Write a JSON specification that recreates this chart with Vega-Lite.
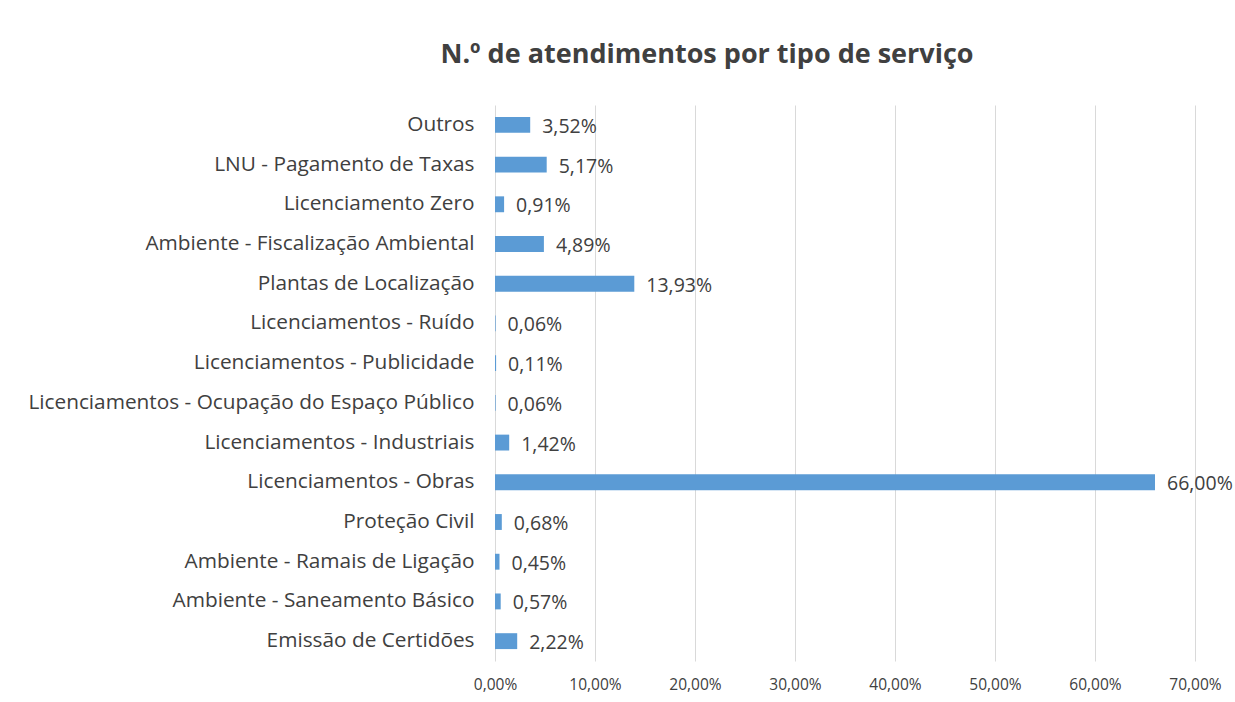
{
  "$schema": "https://vega.github.io/schema/vega-lite/v6.json",
  "autosize": {"type": "none"},
  "width": 700,
  "height": 556,
  "padding": {"left": 495, "top": 105, "right": 40, "bottom": 41},
  "background": "white",
  "title": {
    "text": "N.º de atendimentos por tipo de serviço",
    "font": "Open Sans",
    "fontSize": 27,
    "fontWeight": "bold",
    "color": "#404040",
    "anchor": "middle",
    "dx": -138,
    "offset": 36
  },
  "data": {
    "values": [
      {"servico": "Outros", "valor": 0.0352},
      {"servico": "LNU - Pagamento de Taxas", "valor": 0.0517},
      {"servico": "Licenciamento Zero", "valor": 0.0091},
      {"servico": "Ambiente - Fiscalização Ambiental", "valor": 0.0489},
      {"servico": "Plantas de Localização", "valor": 0.1393},
      {"servico": "Licenciamentos - Ruído", "valor": 0.0006},
      {"servico": "Licenciamentos - Publicidade", "valor": 0.0011},
      {"servico": "Licenciamentos - Ocupação do Espaço Público", "valor": 0.0006},
      {"servico": "Licenciamentos - Industriais", "valor": 0.0142},
      {"servico": "Licenciamentos - Obras", "valor": 0.66},
      {"servico": "Proteção Civil", "valor": 0.0068},
      {"servico": "Ambiente - Ramais de Ligação", "valor": 0.0045},
      {"servico": "Ambiente - Saneamento Básico", "valor": 0.0057},
      {"servico": "Emissão de Certidões", "valor": 0.0222}
    ]
  },
  "encoding": {
    "y": {
      "field": "servico",
      "type": "nominal",
      "sort": null,
      "scale": {"paddingInner": 0.6, "paddingOuter": 0.3},
      "axis": {
        "title": null,
        "ticks": false,
        "domain": false,
        "labelFont": "Open Sans",
        "labelFontSize": 20.8,
        "labelColor": "#404040",
        "labelPadding": 21,
        "labelLimit": 0
      }
    },
    "x": {
      "field": "valor",
      "type": "quantitative",
      "scale": {"domain": [0, 0.7], "nice": false},
      "axis": {
        "title": null,
        "format": ".2%",
        "values": [0, 0.1, 0.2, 0.3, 0.4, 0.5, 0.6, 0.7],
        "ticks": false,
        "domain": false,
        "grid": true,
        "gridColor": "#d9d9d9",
        "gridWidth": 1,
        "labelFont": "Open Sans",
        "labelFontSize": 15.5,
        "labelColor": "#404040",
        "labelPadding": 16,
        "labelFlush": false
      }
    }
  },
  "layer": [
    {"mark": {"type": "bar", "color": "#5b9bd5"}},
    {
      "mark": {"type": "text", "align": "left", "baseline": "middle", "dx": 12, "dy": 2, "font": "Open Sans", "fontSize": 19.5, "color": "#404040"},
      "encoding": {"text": {"field": "valor", "type": "quantitative", "format": ".2%"}}
    }
  ],
  "config": {
    "view": {"stroke": null},
    "locale": {
      "number": {"decimal": ",", "thousands": ".", "grouping": [3], "currency": ["", " €"]}
    }
  }
}
